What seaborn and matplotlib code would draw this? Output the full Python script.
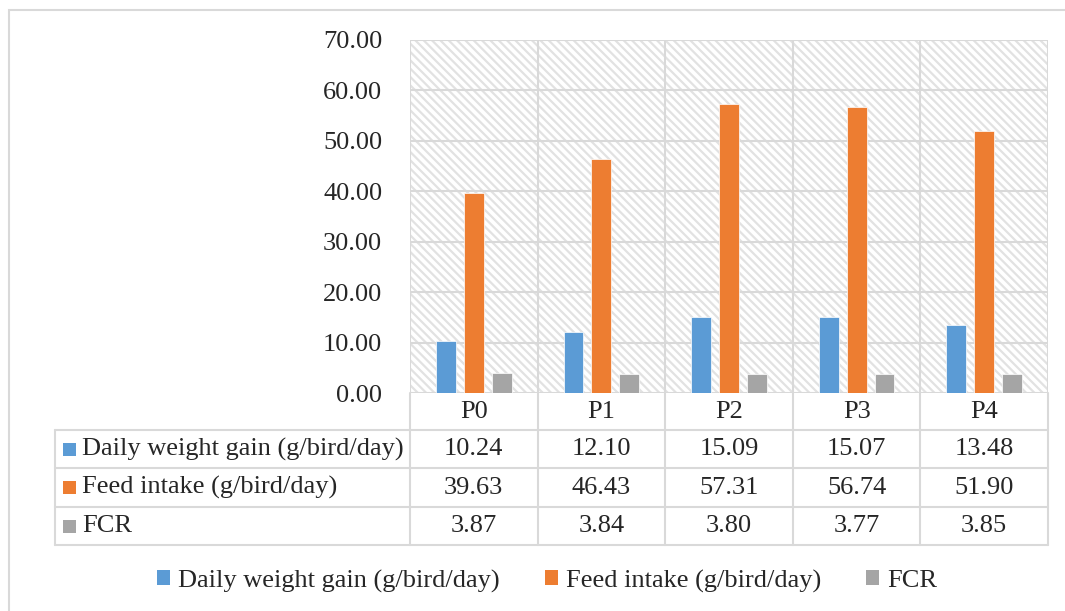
import numpy as np
import pandas as pd
import seaborn as sns
from matplotlib import pyplot as plt
from matplotlib.patches import Rectangle, Patch
from matplotlib.lines import Line2D
import matplotlib.transforms as mtransforms

# 数据
groups = ['P0', 'P1', 'P2', 'P3', 'P4']
series = ['Daily weight gain (g/bird/day)', 'Feed intake (g/bird/day)', 'FCR']
daily_gain = [10.24, 12.10, 15.09, 15.07, 13.48]
feed_intake = [39.63, 46.43, 57.31, 56.74, 51.90]
fcr = [3.87, 3.84, 3.80, 3.77, 3.85]
colors = ['#5B9BD5', '#ED7D31', '#A5A5A5']
y_ticks = [0, 10, 20, 30, 40, 50, 60, 70]

values = [daily_gain, feed_intake, fcr]
df = pd.DataFrame({
    'group': groups * 3,
    'series': np.repeat(series, len(groups)),
    'value': daily_gain + feed_intake + fcr,
})

sns.set_style('white')
plt.rcParams['font.family'] = ['Liberation Serif', 'DejaVu Serif']
plt.rcParams['hatch.linewidth'] = 1.6
fs = 19

W, H = 1065, 611
fig = plt.figure(figsize=(W / 100, H / 100), dpi=100)
fx = lambda x: x / W
fy = lambda y: 1 - y / H
grid_c = '#D9D9D9'

ax = fig.add_axes([fx(410), fy(393), fx(1048) - fx(410), fy(40) - fy(393)])

# 斜线背景
bg = Rectangle((0, 0), 1, 1, transform=ax.transAxes, facecolor='white',
               edgecolor='#E2E2E2', hatch='\\' * 4, lw=0, zorder=0)
ax.add_patch(bg)

sns.barplot(data=df, x='group', y='value', hue='series', palette=colors,
            saturation=1, width=0.656, gap=0.287, ax=ax, legend=False, zorder=3,
            edgecolor='white', linewidth=0.5)

ax.set_xlim(-0.5, 4.5)
ax.set_ylim(0, 70)
ax.set_yticks(y_ticks)
ax.set_yticklabels(['%.2f' % v for v in y_ticks], fontsize=fs)
ax.tick_params(axis='y', length=0, pad=20)
ax.set_xticks([])
ax.set_xlabel('')
ax.set_ylabel('')
for s in ax.spines.values():
    s.set_visible(False)
for v in y_ticks:
    ax.axhline(v, color=grid_c, lw=1.5, zorder=1)
for i in range(len(groups) + 1):
    ax.axvline(i - 0.5, color=grid_c, lw=1.5, zorder=1)

# 数据表
row_lines = [393, 430, 468, 507, 545]
bt = mtransforms.blended_transform_factory(ax.transData, fig.transFigure)
for y in row_lines[1:]:
    fig.add_artist(Line2D([fx(55), fx(1048)], [fy(y), fy(y)], color=grid_c, lw=1.5))
fig.add_artist(Line2D([fx(55), fx(55)], [fy(430), fy(545)], color=grid_c, lw=1.5))
for i in range(len(groups) + 1):
    ax.add_artist(Line2D([i - 0.5, i - 0.5], [fy(393), fy(545)], color=grid_c, lw=1.5,
                         transform=bt, clip_on=False))

for i, g in enumerate(groups):
    ax.text(i, fy((row_lines[0] + row_lines[1]) / 2), g, transform=bt, fontsize=fs,
            ha='center', va='center')

for r, (name, vals, c) in enumerate(zip(series, values, colors)):
    yc = (row_lines[r + 1] + row_lines[r + 2]) / 2
    fig.add_artist(Rectangle((fx(63), fy(yc + 6.5)), fx(13), 13 / H, facecolor=c, lw=0))
    fig.text(fx(82), fy(yc), name, fontsize=fs, ha='left', va='center')
    for i, v in enumerate(vals):
        ax.text(i, fy(yc), '%.2f' % v, transform=bt, fontsize=fs, ha='center', va='center')

# 图例
handles = [Patch(facecolor=c, edgecolor='none') for c in colors]
fig.legend(handles, series, loc='center', bbox_to_anchor=(fx(547), fy(581)), ncol=3,
           frameon=False, fontsize=fs, handlelength=0.5, handleheight=0.5,
           handletextpad=0.3, columnspacing=1.7)

# 外框
fig.add_artist(Rectangle((fx(9), fy(640)), fx(1100), 630 / H, fill=False,
                         edgecolor=grid_c, lw=1.5))

fig.savefig('out.png', dpi=100)
